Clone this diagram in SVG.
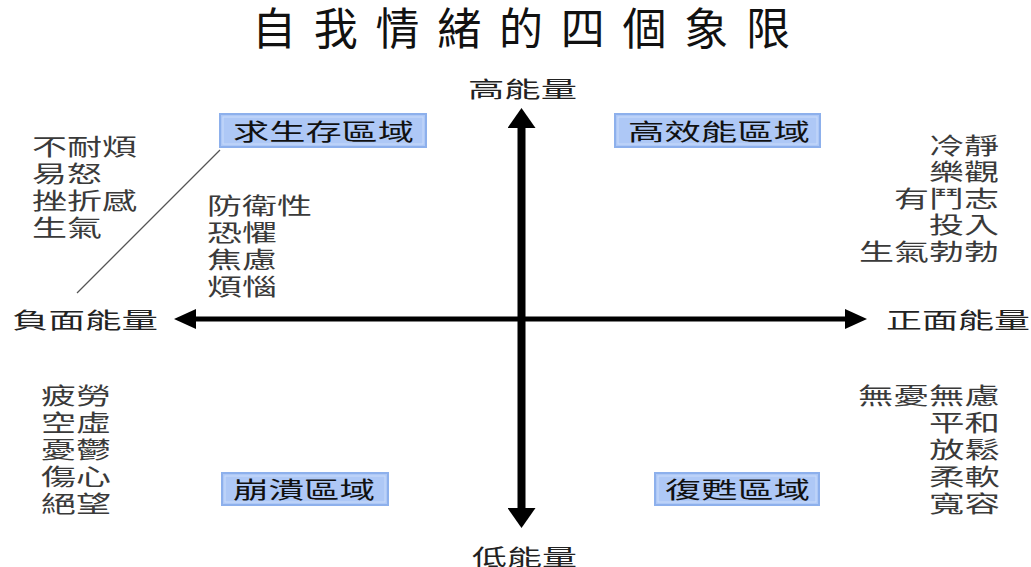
<svg xmlns="http://www.w3.org/2000/svg" width="1031" height="567" viewBox="0 0 1031 567">
<style>
text{font-family:"Noto Sans CJK TC","Noto Sans CJK SC",sans-serif}
.title{font-size:44px;fill:#111}
.axis{font-size:22px;fill:#222}
.lst{font-size:23px;fill:#3a3a3a}
.boxt{font-size:23px;fill:#111}
.box{fill:#aec8f6;stroke:#8db0ec;stroke-width:2}
.inner{fill:none;stroke:#c9dbfa;stroke-width:1}
.shaft{stroke:#000;fill:none}
</style>
<defs>
<marker id="ahV" markerUnits="userSpaceOnUse" markerWidth="20" markerHeight="28" refX="0" refY="14" orient="auto-start-reverse" viewBox="0 0 20 28">
<path d="M0,0 L20,14 L0,28 Z" fill="#000"/>
</marker>
<marker id="ahH" markerUnits="userSpaceOnUse" markerWidth="22" markerHeight="20" refX="0" refY="10" orient="auto-start-reverse" viewBox="0 0 22 20">
<path d="M0,0 L22,10 L0,20 Z" fill="#000"/>
</marker>
</defs>
<rect width="1031" height="567" fill="#fff"/>
<text class="title" x="252" y="45" textLength="538" lengthAdjust="spacing">自我情緒的四個象限</text>

<g id="connectors">
<line class="shaft" x1="521.5" y1="128" x2="521.5" y2="508" stroke-width="8" marker-start="url(#ahV)" marker-end="url(#ahV)"/>
<line class="shaft" x1="196" y1="319" x2="845" y2="319" stroke-width="5" marker-start="url(#ahH)" marker-end="url(#ahH)"/>
<line x1="77" y1="293" x2="220" y2="150" stroke="#555" stroke-width="1.3"/>
</g>

<g id="axis-high"><text class="axis" x="468" y="97" textLength="109" lengthAdjust="spacingAndGlyphs">高能量</text></g>
<g id="axis-low"><text class="axis" x="472" y="565" textLength="105" lengthAdjust="spacingAndGlyphs">低能量</text></g>
<g id="axis-neg"><text class="axis" x="12" y="328" textLength="146" lengthAdjust="spacingAndGlyphs">負面能量</text></g>
<g id="axis-pos"><text class="axis" x="886" y="328" textLength="144" lengthAdjust="spacingAndGlyphs">正面能量</text></g>

<g id="zone-survival">
<rect class="box" x="220" y="114" width="206" height="33"/>
<rect class="inner" x="223" y="117" width="200" height="27"/>
<text class="boxt" x="233" y="140" textLength="181" lengthAdjust="spacingAndGlyphs">求生存區域</text>
</g>
<g id="zone-efficient">
<rect class="box" x="615" y="114" width="205" height="33"/>
<rect class="inner" x="618" y="117" width="199" height="27"/>
<text class="boxt" x="628" y="140" textLength="182" lengthAdjust="spacingAndGlyphs">高效能區域</text>
</g>
<g id="zone-collapse">
<rect class="box" x="222" y="473" width="166" height="32"/>
<rect class="inner" x="225" y="476" width="160" height="26"/>
<text class="boxt" x="233" y="498" textLength="142" lengthAdjust="spacingAndGlyphs">崩潰區域</text>
</g>
<g id="zone-recovery">
<rect class="box" x="655" y="473" width="164" height="32"/>
<rect class="inner" x="658" y="476" width="158" height="26"/>
<text class="boxt" x="665" y="498" textLength="145" lengthAdjust="spacingAndGlyphs">復甦區域</text>
</g>

<g id="list-neg-high">
<text class="lst" x="32" y="155" textLength="105" lengthAdjust="spacingAndGlyphs">不耐煩</text>
<text class="lst" x="32" y="182" textLength="70" lengthAdjust="spacingAndGlyphs">易怒</text>
<text class="lst" x="32" y="209" textLength="105" lengthAdjust="spacingAndGlyphs">挫折感</text>
<text class="lst" x="32" y="236" textLength="70" lengthAdjust="spacingAndGlyphs">生氣</text>
</g>
<g id="list-survival">
<text class="lst" x="207" y="214" textLength="105" lengthAdjust="spacingAndGlyphs">防衛性</text>
<text class="lst" x="207" y="241" textLength="70" lengthAdjust="spacingAndGlyphs">恐懼</text>
<text class="lst" x="207" y="268" textLength="70" lengthAdjust="spacingAndGlyphs">焦慮</text>
<text class="lst" x="207" y="295" textLength="70" lengthAdjust="spacingAndGlyphs">煩惱</text>
</g>
<g id="list-pos-high">
<text class="lst" x="929" y="154" textLength="70" lengthAdjust="spacingAndGlyphs">冷靜</text>
<text class="lst" x="929" y="180" textLength="70" lengthAdjust="spacingAndGlyphs">樂觀</text>
<text class="lst" x="894" y="207" textLength="105" lengthAdjust="spacingAndGlyphs">有鬥志</text>
<text class="lst" x="929" y="233" textLength="70" lengthAdjust="spacingAndGlyphs">投入</text>
<text class="lst" x="859" y="260" textLength="140" lengthAdjust="spacingAndGlyphs">生氣勃勃</text>
</g>
<g id="list-neg-low">
<text class="lst" x="41" y="404" textLength="70" lengthAdjust="spacingAndGlyphs">疲勞</text>
<text class="lst" x="41" y="431" textLength="70" lengthAdjust="spacingAndGlyphs">空虛</text>
<text class="lst" x="41" y="458" textLength="70" lengthAdjust="spacingAndGlyphs">憂鬱</text>
<text class="lst" x="41" y="485" textLength="70" lengthAdjust="spacingAndGlyphs">傷心</text>
<text class="lst" x="41" y="512" textLength="70" lengthAdjust="spacingAndGlyphs">絕望</text>
</g>
<g id="list-pos-low">
<text class="lst" x="858" y="404" textLength="142" lengthAdjust="spacingAndGlyphs">無憂無慮</text>
<text class="lst" x="929" y="431" textLength="71" lengthAdjust="spacingAndGlyphs">平和</text>
<text class="lst" x="929" y="458" textLength="71" lengthAdjust="spacingAndGlyphs">放鬆</text>
<text class="lst" x="929" y="485" textLength="71" lengthAdjust="spacingAndGlyphs">柔軟</text>
<text class="lst" x="929" y="512" textLength="71" lengthAdjust="spacingAndGlyphs">寬容</text>
</g>
</svg>
